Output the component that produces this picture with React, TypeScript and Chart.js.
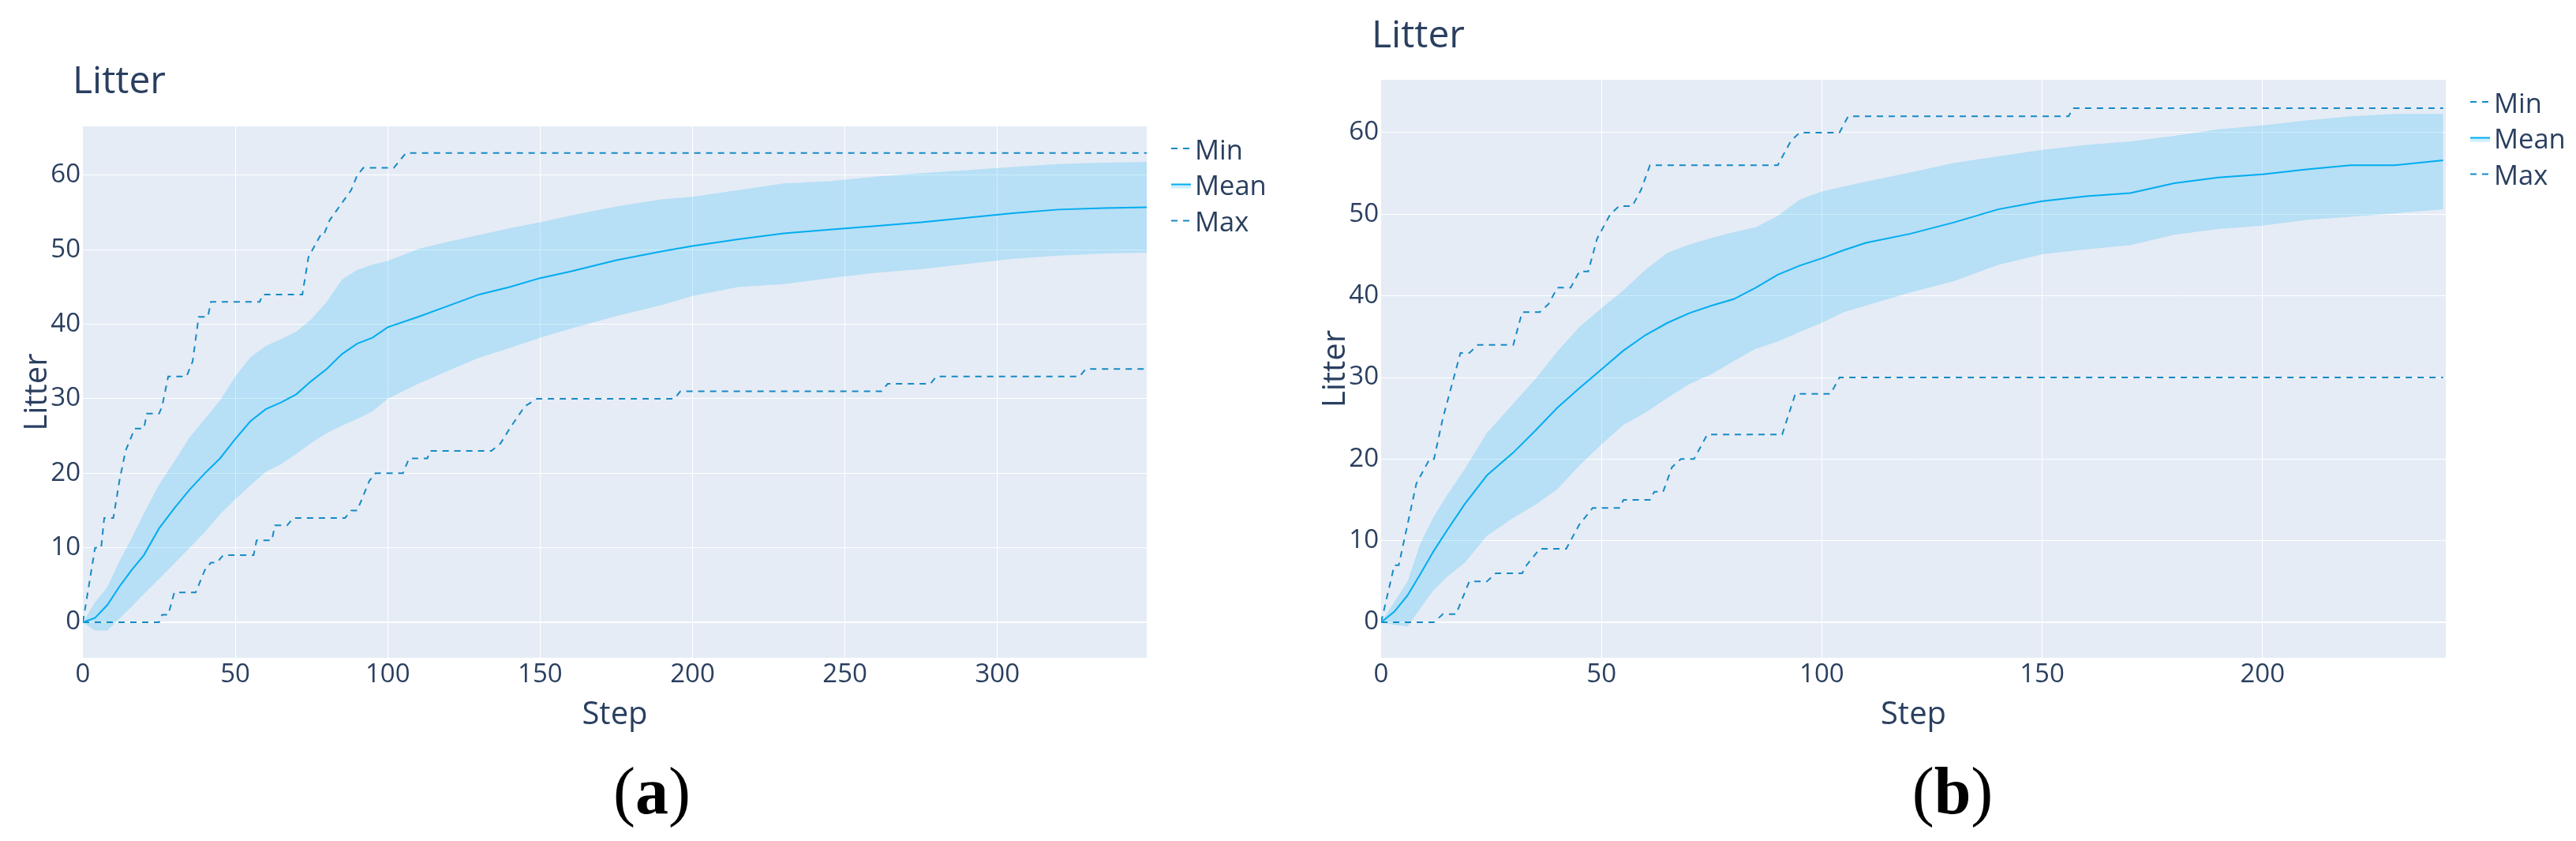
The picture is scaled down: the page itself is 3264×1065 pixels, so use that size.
import React, { useEffect, useRef } from "react";
import { Chart, registerables } from "chart.js";

Chart.register(...registerables);

// ---------------- Panel (a) data ----------------
const stepsA = [0, 4, 8, 12, 16, 20, 25, 30, 35, 40, 45, 50, 55, 60, 65, 70, 75, 80, 85, 90, 95, 100, 110, 120, 130, 140, 150, 160, 175, 190, 200, 215, 230, 245, 260, 275, 290, 305, 320, 335, 349];
const upperA = [0, 2.7, 4.7, 8.2, 11.3, 14.6, 18.5, 21.6, 24.8, 27.3, 29.8, 33, 35.6, 37.1, 38, 39, 40.7, 43, 46, 47.3, 48, 48.5, 50.1, 51.1, 52, 52.9, 53.7, 54.6, 55.8, 56.8, 57.1, 58, 58.9, 59.2, 59.8, 60.3, 60.7, 61.1, 61.5, 61.7, 61.8];
const meanA = [0, 0.6, 2.3, 4.8, 7, 9, 12.6, 15.3, 17.8, 20, 22, 24.6, 27, 28.6, 29.5, 30.6, 32.4, 34, 36, 37.4, 38.2, 39.6, 41, 42.5, 44, 45, 46.2, 47.1, 48.6, 49.8, 50.5, 51.4, 52.2, 52.7, 53.2, 53.7, 54.3, 54.9, 55.4, 55.6, 55.7];
const lowerA = [0, -1.1, -1.1, 0.5, 2.1, 3.8, 5.8, 7.9, 10, 12.1, 14.5, 16.5, 18.4, 20.2, 21.2, 22.6, 24.1, 25.4, 26.4, 27.3, 28.3, 30, 32, 33.8, 35.5, 36.8, 38.2, 39.4, 41.1, 42.6, 43.8, 45, 45.4, 46.2, 46.9, 47.4, 48.1, 48.8, 49.2, 49.5, 49.6];
const maxStepsA = [0, 4, 6, 7, 10, 12, 14, 17, 20, 21, 25, 26, 28, 34, 36, 38, 41, 42, 58, 59, 72, 74, 78, 79, 81, 88, 90, 92, 102, 104, 106, 349];
const maxValsA = [0, 10, 10, 14, 14, 19, 23, 26, 26, 28, 28, 29, 33, 33, 35, 41, 41, 43, 43, 44, 44, 49, 52, 52, 54, 58, 60, 61, 61, 62, 63, 63];
const minStepsA = [0, 25, 26, 28, 30, 37, 40, 42, 44, 46, 56, 57, 62, 63, 67, 69, 86, 88, 90, 94, 96, 105, 107, 113, 114, 134, 137, 140, 145, 149, 194, 196, 262, 264, 278, 280, 327, 329, 349];
const minValsA = [0, 0, 1, 1, 4, 4, 7, 8, 8, 9, 9, 11, 11, 13, 13, 14, 14, 15, 15, 19, 20, 20, 22, 22, 23, 23, 24, 26, 29, 30, 30, 31, 31, 32, 32, 33, 33, 34, 34];
const xTicksA = [0, 50, 100, 150, 200, 250, 300];
const xMaxA = 349;
const yRangeA = [-4.77, 66.57];

// ---------------- Panel (b) data ----------------
const stepsB = [0, 3, 6, 9, 12, 15, 19, 24, 30, 35, 40, 45, 50, 55, 60, 65, 70, 75, 80, 85, 90, 95, 100, 105, 110, 120, 130, 140, 150, 160, 170, 180, 190, 200, 210, 220, 230, 241];
const upperB = [0, 2.5, 5, 9.8, 13, 15.6, 18.8, 23.2, 26.8, 29.8, 33.2, 36.2, 38.5, 40.7, 43.2, 45.3, 46.3, 47.1, 47.8, 48.4, 49.8, 51.8, 52.8, 53.4, 54, 55.1, 56.3, 57.1, 57.9, 58.5, 58.9, 59.6, 60.4, 60.9, 61.5, 62, 62.3, 62.3];
const meanB = [0, 1.3, 3.3, 6, 8.8, 11.3, 14.5, 18, 20.8, 23.5, 26.3, 28.7, 31, 33.3, 35.2, 36.7, 37.9, 38.8, 39.6, 41, 42.6, 43.7, 44.6, 45.6, 46.5, 47.6, 49, 50.6, 51.6, 52.2, 52.6, 53.8, 54.5, 54.9, 55.5, 56, 56, 56.6];
const lowerB = [0, -0.3, -0.5, 1.8, 4, 5.6, 7.3, 10.6, 12.8, 14.4, 16.3, 19.2, 21.8, 24.2, 25.7, 27.5, 29.2, 30.4, 32, 33.5, 34.4, 35.6, 36.7, 38, 38.8, 40.4, 41.8, 43.8, 45.1, 45.7, 46.2, 47.5, 48.2, 48.6, 49.3, 49.7, 50.1, 50.6];
const maxStepsB = [0, 3, 4, 6, 8, 10, 11, 12, 14, 16, 18, 20, 22, 30, 32, 36, 38, 40, 43, 45, 47, 49, 50, 52, 54, 57, 59, 61, 90, 92, 93, 95, 104, 106, 156, 157, 241];
const maxValsB = [0, 7, 7, 12, 17, 19, 20, 20, 25, 29, 33, 33, 34, 34, 38, 38, 39, 41, 41, 43, 43, 47, 48, 50, 51, 51, 53, 56, 56, 58, 59, 60, 60, 62, 62, 63, 63];
const minStepsB = [0, 12, 14, 17, 20, 24, 26, 32, 33, 36, 42, 45, 48, 54, 55, 61, 62, 64, 66, 68, 71, 74, 91, 94, 102, 104, 241];
const minValsB = [0, 0, 1, 1, 5, 5, 6, 6, 7, 9, 9, 12, 14, 14, 15, 15, 16, 16, 19, 20, 20, 23, 23, 28, 28, 30, 30];
const xTicksB = [0, 50, 100, 150, 200];
const xMaxB = 241.6;
const yRangeB = [-4.35, 66.48];

const yTicks = [0, 10, 20, 30, 40, 50, 60];
const seriesLabels = ["Min", "Mean", "Max"];
const titleText = "Litter";
const xTitle = "Step";
const yTitle = "Litter";

// ---------------- styles ----------------
const TEXT = "#2a3f5f";
const PLOT_BG = "#E5ECF6";
const BAND = "rgba(0,176,246,0.2)";
const MEAN_C = "rgb(0,172,240)";
const DASH_C = "rgb(22,138,196)";
const DASH = [8, 7];
const FONT = '"Open Sans", "Noto Sans", sans-serif';

type PanelCfg = {
  steps: number[];
  upper: number[];
  mean: number[];
  lower: number[];
  minSteps: number[];
  minVals: number[];
  maxSteps: number[];
  maxVals: number[];
  xTicks: number[];
  xMax: number;
  yRange: number[];
  caption: string;
  offsetX: number;
  pad: { left: number; right: number; top: number; bottom: number };
  titleX: number;
  titleY: number;
  captionX: number;
};

const pts = (xs: number[], ys: number[]) => xs.map((x, i) => ({ x, y: ys[i] }));

const decorPlugin = {
  id: "decor",
  beforeDraw(chart: any) {
    const { ctx, chartArea: a } = chart;
    ctx.save();
    ctx.fillStyle = PLOT_BG;
    ctx.fillRect(a.left, a.top, a.right - a.left, a.bottom - a.top);
    ctx.restore();
  },
  afterDraw(chart: any, _args: any, opts: any) {
    const { ctx, chartArea: a } = chart;
    ctx.save();
    ctx.fillStyle = TEXT;
    ctx.textBaseline = "alphabetic";
    // title
    ctx.font = `48px ${FONT}`;
    ctx.textAlign = "left";
    ctx.fillText(titleText, opts.titleX, opts.titleY);
    // x title
    ctx.font = `40px ${FONT}`;
    ctx.textAlign = "center";
    ctx.fillText(xTitle, (a.left + a.right) / 2, a.bottom + 84);
    // y title
    ctx.save();
    ctx.translate(a.left - 46, (a.top + a.bottom) / 2);
    ctx.rotate(-Math.PI / 2);
    ctx.fillText(yTitle, 0, 0);
    ctx.restore();
    // legend
    const lx0 = a.right + 31;
    const lx1 = a.right + 56;
    const tx = a.right + 61;
    const offs = [41.5, 87, 133];
    ctx.font = `34.5px ${FONT}`;
    ctx.textAlign = "left";
    seriesLabels.forEach((lab, i) => {
      const by = a.top + offs[i];
      const ly = by - 13.5;
      if (lab === "Mean") {
        ctx.fillStyle = BAND;
        ctx.fillRect(lx0, ly, lx1 - lx0, 5);
        ctx.strokeStyle = MEAN_C;
        ctx.setLineDash([]);
      } else {
        ctx.strokeStyle = DASH_C;
        ctx.setLineDash(DASH);
      }
      ctx.lineWidth = 2;
      ctx.beginPath();
      ctx.moveTo(lx0, ly);
      ctx.lineTo(lx1, ly);
      ctx.stroke();
      ctx.setLineDash([]);
      ctx.fillStyle = TEXT;
      ctx.fillText(lab, tx, by);
    });
    // caption "(x)" with bold letter
    ctx.fillStyle = "#000";
    const normal = `84px "Liberation Serif", "DejaVu Serif", serif`;
    const bold = `bold 84px "Liberation Serif", "DejaVu Serif", serif`;
    ctx.font = normal;
    const wp = ctx.measureText("(").width;
    const wq = ctx.measureText(")").width;
    ctx.font = bold;
    const wl = ctx.measureText(opts.caption).width;
    const total = wp + wl + wq;
    let cx = opts.captionX - total / 2;
    const cy = 1030;
    ctx.textAlign = "left";
    ctx.font = normal;
    ctx.fillText("(", cx, cy);
    cx += wp;
    ctx.font = bold;
    ctx.fillText(opts.caption, cx, cy);
    cx += wl;
    ctx.font = normal;
    ctx.fillText(")", cx, cy);
    ctx.restore();
  },
};

function Panel({ cfg }: { cfg: PanelCfg }) {
  const ref = useRef<HTMLCanvasElement | null>(null);
  useEffect(() => {
    if (!ref.current) return;
    const chart = new Chart(ref.current, {
      type: "line",
      data: {
        datasets: [
          {
            label: "lower",
            data: pts(cfg.steps, cfg.lower),
            borderColor: "transparent",
            borderWidth: 0,
            pointRadius: 0,
            fill: false,
          },
          {
            label: "upper",
            data: pts(cfg.steps, cfg.upper),
            borderColor: "transparent",
            borderWidth: 0,
            pointRadius: 0,
            backgroundColor: BAND,
            fill: "-1",
          },
          {
            label: "Mean",
            data: pts(cfg.steps, cfg.mean),
            borderColor: MEAN_C,
            borderWidth: 2,
            pointRadius: 0,
            fill: false,
          },
          {
            label: "Min",
            data: pts(cfg.minSteps, cfg.minVals),
            borderColor: DASH_C,
            borderWidth: 2,
            borderDash: DASH,
            pointRadius: 0,
            fill: false,
          },
          {
            label: "Max",
            data: pts(cfg.maxSteps, cfg.maxVals),
            borderColor: DASH_C,
            borderWidth: 2,
            borderDash: DASH,
            pointRadius: 0,
            fill: false,
          },
        ],
      } as any,
      options: {
        animation: false,
        responsive: false,
        devicePixelRatio: 1,
        events: [],
        layout: { padding: cfg.pad },
        plugins: {
          legend: { display: false },
          title: { display: false },
          tooltip: { enabled: false },
          filler: { drawTime: "beforeDatasetsDraw" },
          decor: { titleX: cfg.titleX, titleY: cfg.titleY, caption: cfg.caption, captionX: cfg.captionX },
        } as any,
        scales: {
          x: {
            type: "linear",
            min: 0,
            max: cfg.xMax,
            border: { display: false },
            grid: {
              color: "#ffffff",
              drawTicks: false,
              lineWidth: (c: any) => (c.tick && c.tick.value === 0 ? 0 : 1),
            },
            ticks: {
              padding: 2,
              color: TEXT,
              font: { family: FONT, size: 33 },
              maxRotation: 0,
              autoSkip: false,
            },
            afterBuildTicks: (s: any) => {
              s.ticks = cfg.xTicks.map((v) => ({ value: v }));
            },
            afterFit: (s: any) => {
              s.height = 60;
              s.paddingLeft = 0;
              s.paddingRight = 0;
            },
          },
          y: {
            type: "linear",
            min: cfg.yRange[0],
            max: cfg.yRange[1],
            border: { display: false },
            grid: {
              color: "#ffffff",
              drawTicks: false,
              lineWidth: (c: any) => (c.tick && c.tick.value === 0 ? 2 : 1),
            },
            ticks: {
              padding: 3,
              color: TEXT,
              font: { family: FONT, size: 33 },
            },
            afterBuildTicks: (s: any) => {
              s.ticks = yTicks.map((v) => ({ value: v }));
            },
            afterFit: (s: any) => {
              s.width = 80;
              s.paddingTop = 0;
              s.paddingBottom = 0;
            },
          },
        } as any,
      },
      plugins: [decorPlugin as any],
    });
    return () => chart.destroy();
  }, [cfg]);
  return (
    <canvas
      ref={ref}
      width={1632}
      height={1065}
      style={{ position: "absolute", left: cfg.offsetX, top: 0, width: 1632, height: 1065 }}
    />
  );
}

const panelA: PanelCfg = {
  steps: stepsA,
  upper: upperA,
  mean: meanA,
  lower: lowerA,
  minSteps: minStepsA,
  minVals: minValsA,
  maxSteps: maxStepsA,
  maxVals: maxValsA,
  xTicks: xTicksA,
  xMax: xMaxA,
  yRange: yRangeA,
  caption: "a",
  offsetX: 0,
  pad: { left: 25, right: 179, top: 160, bottom: 172 },
  titleX: 92,
  titleY: 118,
  captionX: 826,
};

const panelB: PanelCfg = {
  steps: stepsB,
  upper: upperB,
  mean: meanB,
  lower: lowerB,
  minSteps: minStepsB,
  minVals: minValsB,
  maxSteps: maxStepsB,
  maxVals: maxValsB,
  xTicks: xTicksB,
  xMax: xMaxB,
  yRange: yRangeB,
  caption: "b",
  offsetX: 1632,
  pad: { left: 38, right: 165, top: 101, bottom: 172 },
  titleX: 106,
  titleY: 60,
  captionX: 842,
};

export default function App() {
  return (
    <div
      style={{
        position: "absolute",
        left: 0,
        top: 0,
        width: 3264,
        height: 1065,
        background: "#ffffff",
        overflow: "hidden",
      }}
    >
      <Panel cfg={panelA} />
      <Panel cfg={panelB} />
    </div>
  );
}
